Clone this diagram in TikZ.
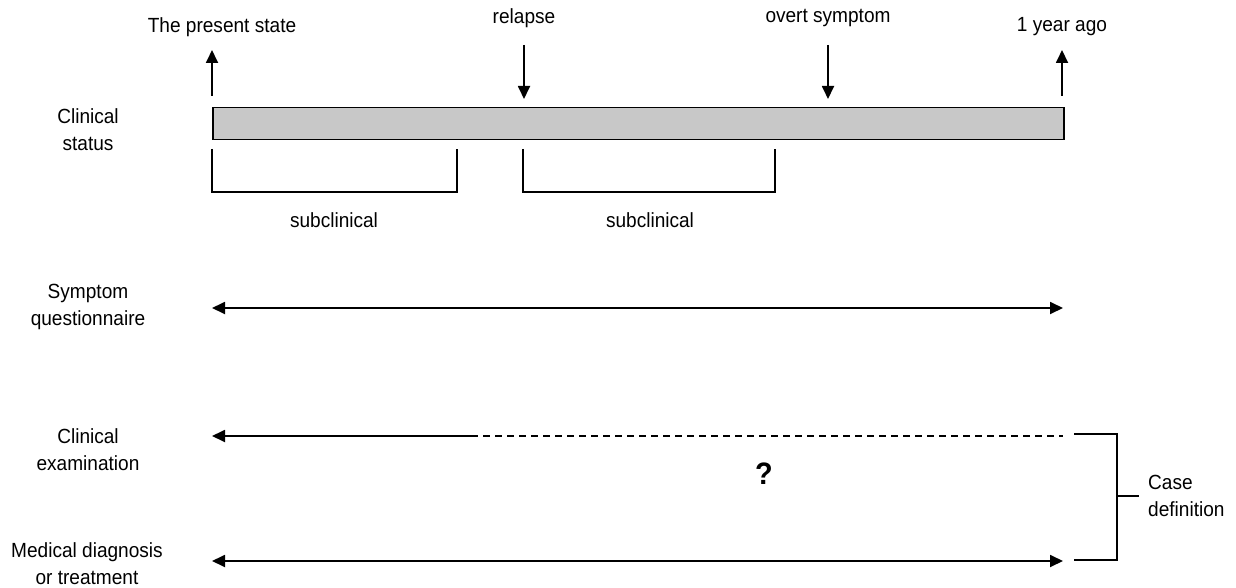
\documentclass[tikz,border=0pt]{standalone}
\usepackage{fontspec}
\setmainfont[FakeStretch=0.93]{Liberation Sans}
\usetikzlibrary{arrows.meta}
\begin{document}
\begin{tikzpicture}[x=1pt,y=-1pt,
  lbl/.style={font=\fontsize{20.5}{27}\selectfont, align=center, inner sep=0pt},
  ln/.style={line width=1.8pt},
  tip/.style={-{Triangle[length=13pt,width=12pt]}},
  dtip/.style={{Triangle[length=13pt,width=12pt]}-{Triangle[length=13pt,width=12pt]}}]
\useasboundingbox (0,0) rectangle (1236,588);
% bar
\node[draw, line width=1.5pt, fill={rgb,255:red,200;green,200;blue,200}, minimum width=851pt, minimum height=32pt, inner sep=0pt, anchor=north west] (bar) at (212,107) {};
% top labels
\node[lbl] (present) at (222,27) {The present state};
\node[lbl] (relapse) at (524,18) {relapse};
\node[lbl] (overt) at (828,18) {overt symptom};
\node[lbl] (year) at (1062,27) {1 year ago};
\coordinate (p0) at (212,96); \coordinate (p1) at (212,50);
\coordinate (r0) at (524,45); \coordinate (r1) at (524,99);
\coordinate (o0) at (828,45); \coordinate (o1) at (828,99);
\coordinate (y0) at (1062,96); \coordinate (y1) at (1062,50);
\draw[ln,tip] (p0) -- (p1);
\draw[ln,tip] (r0) -- (r1);
\draw[ln,tip] (o0) -- (o1);
\draw[ln,tip] (y0) -- (y1);
% brackets
\coordinate (b1a) at (212,149); \coordinate (b1b) at (457,149);
\coordinate (b2a) at (523,149); \coordinate (b2b) at (775,149);
\draw[ln] (b1a) -- ++(0,43) -| (b1b);
\draw[ln] (b2a) -- ++(0,43) -| (b2b);
\node[lbl] (sub1) at (334,220) {subclinical};
\node[lbl] (sub2) at (650,220) {subclinical};
% left labels
\node[lbl] (cs) at (88,130) {Clinical\\status};
\node[lbl] (sq) at (88,307) {Symptom\\questionnaire};
\node[lbl] (ce) at (88,450) {Clinical\\examination};
\node[lbl] (md) at (87,564) {Medical diagnosis\\or treatment};
% timelines
\coordinate (sqa) at (212,308); \coordinate (sqb) at (1063,308);
\draw[ln,dtip] (sqa) -- (sqb);
\coordinate (cea) at (212,436); \coordinate (cem) at (471,436); \coordinate (ceb) at (1063,436);
\draw[ln,tip] (cem) -- (cea);
\draw[ln, dash pattern=on 7pt off 5pt] (cem) -- (ceb);
\coordinate (mda) at (212,561); \coordinate (mdb) at (1063,561);
\draw[ln,dtip] (mda) -- (mdb);
\node[font=\fontsize{31}{34}\selectfont\bfseries, inner sep=0pt] (q) at (764,474) {?};
% case definition bracket
\coordinate (ca) at (1074,434); \coordinate (cb) at (1074,560);
\coordinate (cv) at (1117,496);
\draw[ln] (ca) -| (cv) |- (cb);
\node[lbl, align=left, anchor=west] (case) at (1148,496) {Case\\definition};
\draw[ln] (cv) -- ++(22,0);
\end{tikzpicture}
\end{document}
